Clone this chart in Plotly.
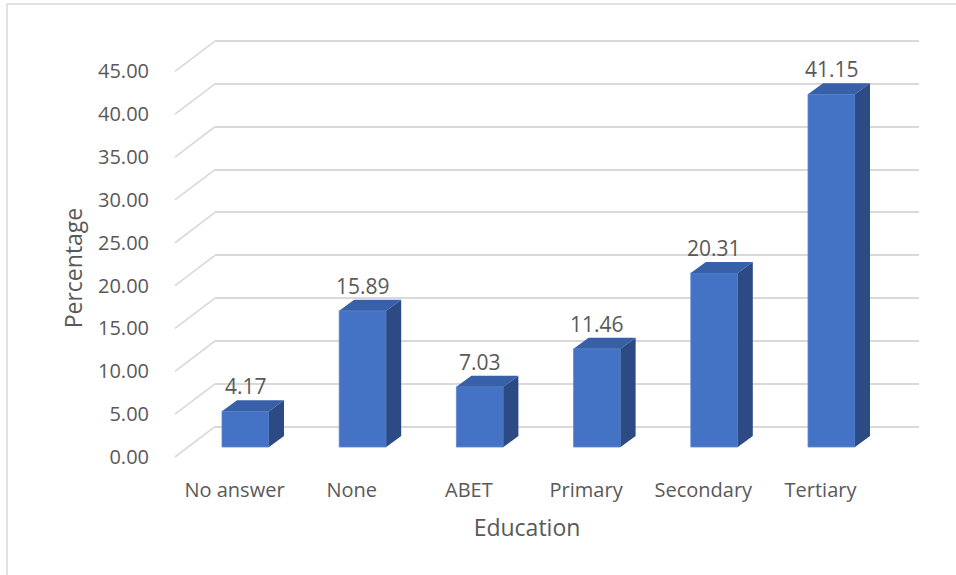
import plotly.graph_objects as go

# ---- data ----
categories = ["No answer", "None", "ABET", "Primary", "Secondary", "Tertiary"]
values = [4.17, 15.89, 7.03, 11.46, 20.31, 41.15]
y_ticks = [0, 5, 10, 15, 20, 25, 30, 35, 40, 45]
x_title = "Education"
y_title = "Percentage"

# ---- layout constants (pixels) ----
W, H = 956, 575
PL, PR = 175, 919          # plot area left/right
PT, PB = 20, 470           # plot area top/bottom
PW, PH = PR - PL, PB - PT
DEPTH_X, DEPTH_Y = 40, 30.3   # front-plane -> back-wall projection
S = 8.57                   # px per percentage unit
CAT = 117.2                # px per category
BAR_W = 47                 # px, front face width
BAR_DX, BAR_DY = 15, 11    # bar depth projection
ZERO_BAR, ZERO_BACK, ZERO_FRONT = 447, 426.7, 457
FIRST_BAR_C, FIRST_LABEL_C = 245.5, 234.5

FRONT = "#4472C4"
TOP = "#3760A9"
SIDE = "#2C4B85"
GRID = "#D9D9D9"
TXT = "#595959"
FONT = "Open Sans"

idx = list(range(len(categories)))

xd0 = DEPTH_X / PW
xa = -(FIRST_BAR_C - (PL + DEPTH_X)) / CAT
x_range = [xa, xa + (PW - DEPTH_X) / CAT]
x2a = -(FIRST_LABEL_C - PL) / CAT
x2_range = [x2a, x2a + (PW - DEPTH_X) / CAT]

y_range = [-(PB - ZERO_BAR) / S, (ZERO_BAR - PT) / S]
y2_range = [-(PB - ZERO_BACK) / S, (ZERO_BACK - PT) / S]
front_top_px = 2 * 268 - PB
y3_dom = [0, (PB - front_top_px) / PH]
y3_range = [-(PB - ZERO_FRONT) / S, (ZERO_FRONT - front_top_px) / S]

fig = go.Figure()
fig.add_trace(go.Bar(
    x=idx, y=values, width=BAR_W / CAT,
    marker=dict(color=FRONT, line=dict(color="#5A86D0", width=0.8)),
    hoverinfo="skip", showlegend=False,
))
# dummy traces to activate the extra axes
fig.add_trace(go.Scatter(x=[None], y=[None], xaxis="x", yaxis="y2", showlegend=False))
fig.add_trace(go.Scatter(x=[None], y=[None], xaxis="x2", yaxis="y3", showlegend=False))

shapes = []
hw = BAR_W / 2
dyu = BAR_DY / S
for i, v in zip(idx, values):
    # top face
    shapes.append(dict(
        type="path", xref="x", yref="y", xsizemode="pixel", xanchor=i,
        path=f"M {-hw},{v} L {hw},{v} L {hw + BAR_DX},{v + dyu} L {-hw + BAR_DX},{v + dyu} Z",
        fillcolor=TOP, line=dict(width=0), layer="above"))
    # side face
    shapes.append(dict(
        type="path", xref="x", yref="y", xsizemode="pixel", xanchor=i,
        path=f"M {hw},{v} L {hw + BAR_DX},{v + dyu} L {hw + BAR_DX},{dyu} L {hw},0 Z",
        fillcolor=SIDE, line=dict(width=0), layer="above"))
# side-wall diagonals (from front plane up to the back-wall gridline)
for t in y_ticks:
    shapes.append(dict(
        type="line", xref="paper", x0=0, x1=xd0,
        yref="y2", ysizemode="pixel", yanchor=t, y0=-DEPTH_Y, y1=0,
        line=dict(color=GRID, width=1.6), layer="below"))
# chart-area border
shapes.append(dict(
    type="rect", xref="paper", yref="paper",
    x0=(7 - PL) / PW, x1=(W + 20 - PL) / PW,
    y0=-(H + 20 - PB) / PH, y1=(PB - 4) / PH,
    line=dict(color=GRID, width=1.5), fillcolor="rgba(0,0,0,0)", layer="below"))

annotations = [dict(
    x=i, y=v, xref="x", yref="y", text=f"{v:.2f}", showarrow=False,
    yshift=25, font=dict(family=FONT, size=21, color=TXT))
    for i, v in zip(idx, values)]

fig.update_layout(
    width=W, height=H,
    margin=dict(l=PL, r=W - PR, t=PT, b=H - PB, pad=0),
    paper_bgcolor="white", plot_bgcolor="rgba(0,0,0,0)",
    font=dict(family=FONT, size=21, color=TXT),
    shapes=shapes, annotations=annotations,
    xaxis=dict(domain=[xd0, 1], range=x_range, showgrid=False, zeroline=False,
               showticklabels=False, showline=False, ticks=""),
    xaxis2=dict(domain=[0, 1 - xd0], range=x2_range, anchor="free", position=0,
                tickvals=idx, ticktext=categories, showgrid=False, zeroline=False,
                showline=False, ticks="outside", ticklen=0, tickcolor="rgba(0,0,0,0)",
                ticklabelstandoff=2,
                tickfont=dict(family=FONT, size=20, color=TXT),
                title=dict(text=x_title, standoff=17,
                           font=dict(family=FONT, size=23, color=TXT))),
    yaxis=dict(range=y_range, anchor="x", showgrid=False, zeroline=False,
               showticklabels=False, showline=False, ticks=""),
    yaxis2=dict(range=y2_range, overlaying="y", anchor="x", tickvals=y_ticks,
                showgrid=True, gridcolor=GRID, gridwidth=1.6, zeroline=False,
                showticklabels=False, showline=False, ticks=""),
    yaxis3=dict(domain=y3_dom, range=y3_range, anchor="free", position=0, side="left",
                tickvals=y_ticks, tickformat=".2f", showgrid=False, zeroline=False,
                showline=False, ticks="outside", ticklen=0, tickcolor="rgba(0,0,0,0)",
                ticklabelstandoff=22,
                tickfont=dict(family=FONT, size=20, color=TXT),
                title=dict(text=y_title, standoff=7,
                           font=dict(family=FONT, size=23, color=TXT))),
)

fig.write_html("out.html")
